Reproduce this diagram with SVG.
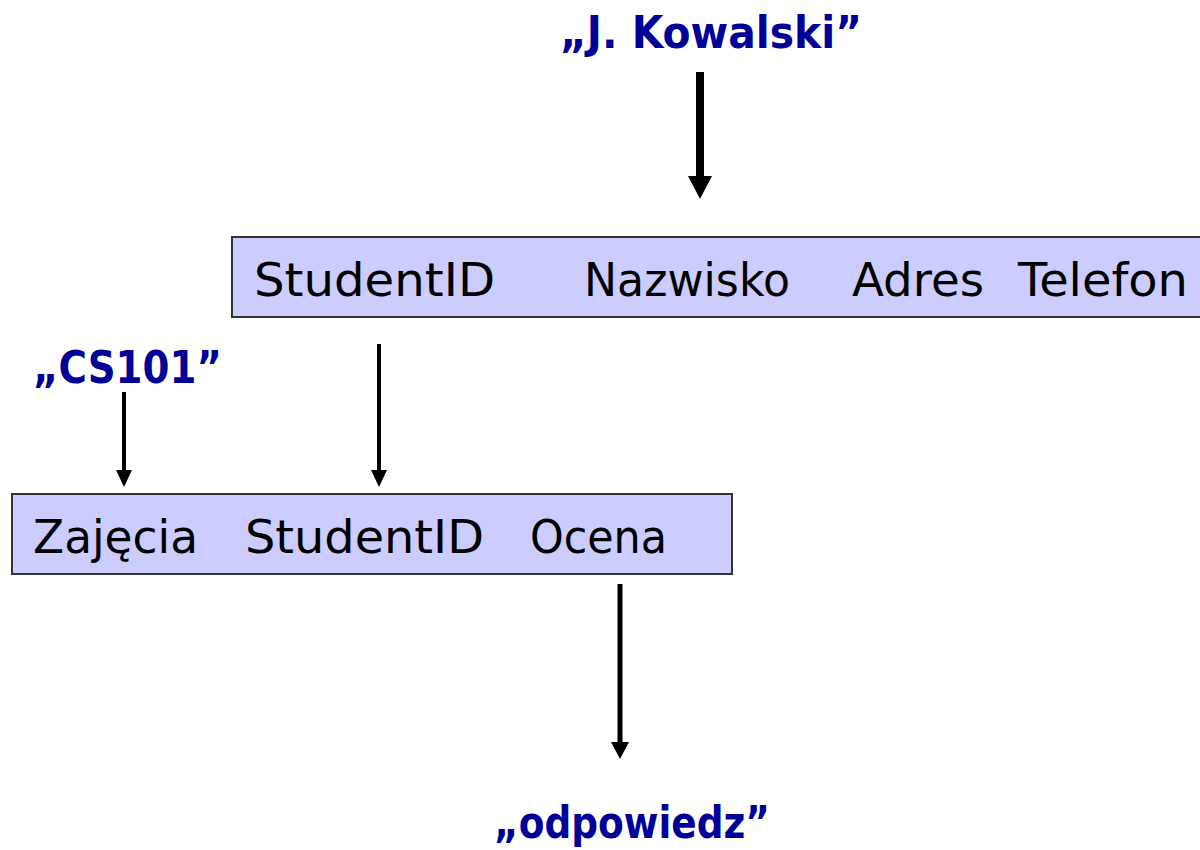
<svg xmlns="http://www.w3.org/2000/svg" width="1200" height="850" viewBox="0 0 1200 850">
  <style>
    .box { fill: #CCCCFF; stroke: #333333; stroke-width: 2; }
    .field { font-family: "DejaVu Sans", "Liberation Sans", sans-serif; font-size: 46px; fill: #000000; }
    .value { font-family: "DejaVu Sans", "Liberation Sans", sans-serif; font-weight: bold; font-size: 44px; fill: #000099; }
    .shaft { stroke: #000000; }
    .head { fill: #000000; }
  </style>
  <rect width="1200" height="850" fill="#FFFFFF"/>

  <g id="students">
    <rect class="box" x="232" y="237" width="975" height="80"/>
    <text class="field" x="254" y="296" textLength="241" lengthAdjust="spacingAndGlyphs">StudentID</text>
    <text class="field" x="584" y="296" textLength="206" lengthAdjust="spacingAndGlyphs">Nazwisko</text>
    <text class="field" x="852" y="296" textLength="132" lengthAdjust="spacingAndGlyphs">Adres</text>
    <text class="field" x="1018" y="296" textLength="170" lengthAdjust="spacingAndGlyphs">Telefon</text>
  </g>

  <g id="grades">
    <rect class="box" x="12" y="494" width="720" height="80"/>
    <text class="field" x="33" y="553" textLength="165" lengthAdjust="spacingAndGlyphs">Zajęcia</text>
    <text class="field" x="245" y="553" textLength="239" lengthAdjust="spacingAndGlyphs">StudentID</text>
    <text class="field" x="530" y="553" textLength="137" lengthAdjust="spacingAndGlyphs">Ocena</text>
  </g>

  <g id="kowalski">
    <text class="value" x="560" y="48" textLength="302" lengthAdjust="spacingAndGlyphs">„J. Kowalski”</text>
  </g>

  <g id="cs101">
    <text class="value" x="33" y="383" font-size="40" textLength="189" lengthAdjust="spacingAndGlyphs">„CS101”</text>
  </g>

  <g id="odpowiedz">
    <text class="value" x="494" y="838" textLength="276" lengthAdjust="spacingAndGlyphs">„odpowiedz”</text>
  </g>

  <g id="connectors">
    <line class="shaft" x1="700" y1="72" x2="700" y2="178" stroke-width="8"/>
    <polygon class="head" points="688,176 712,176 700,199"/>

    <line class="shaft" x1="379" y1="344" x2="379" y2="472" stroke-width="4"/>
    <polygon class="head" points="371,470 387,470 379,487"/>

    <line class="shaft" x1="124" y1="392" x2="124" y2="472" stroke-width="4"/>
    <polygon class="head" points="116,470 132,470 124,487"/>

    <line class="shaft" x1="620" y1="584" x2="620" y2="744" stroke-width="5"/>
    <polygon class="head" points="611,742 629,742 620,759"/>
  </g>
</svg>
